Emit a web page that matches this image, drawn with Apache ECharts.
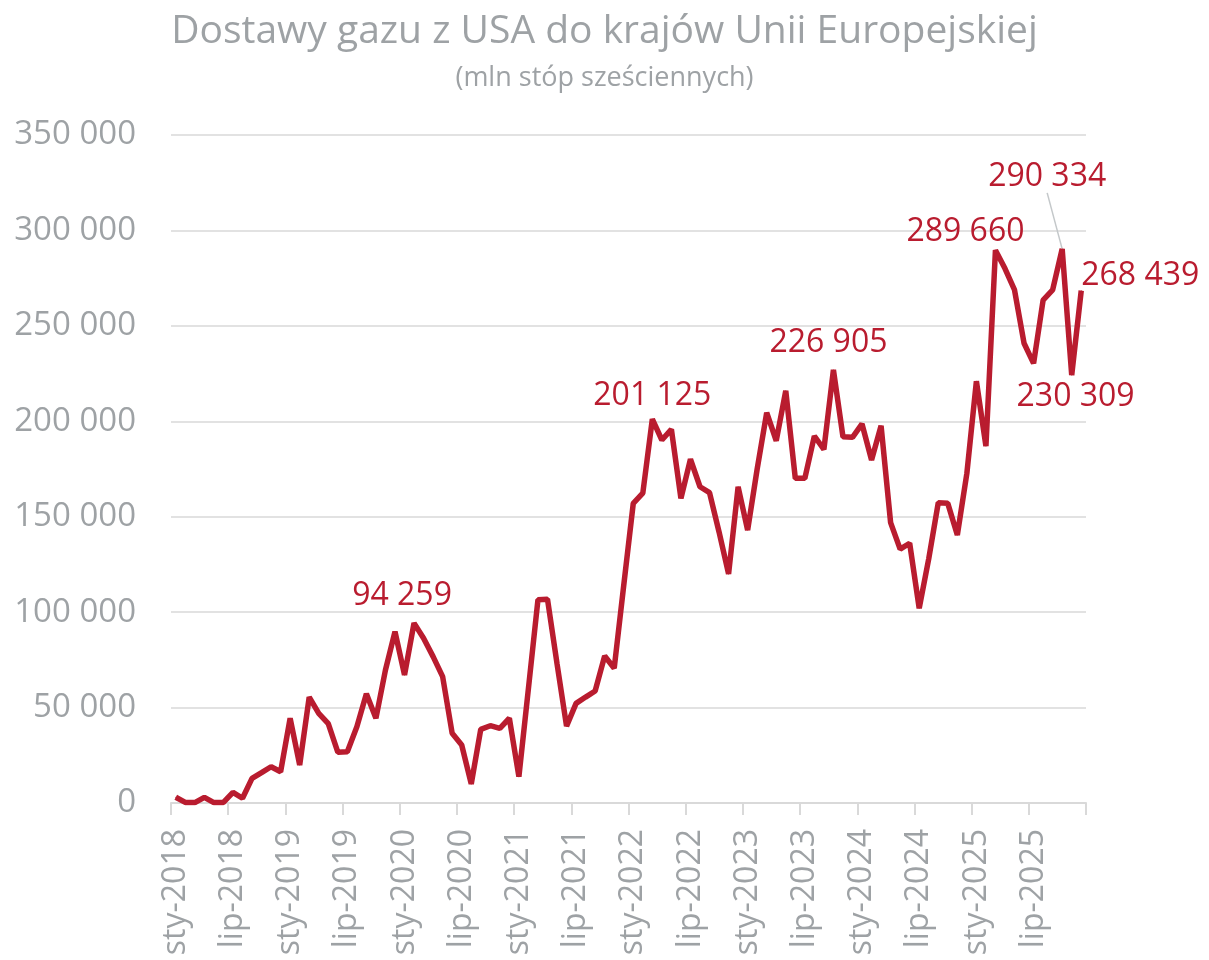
<!DOCTYPE html>
<html>
<head>
<meta charset="utf-8">
<script src="https://cdn.jsdelivr.net/npm/echarts@6/dist/echarts.min.js"></script>
<style>
  html, body { margin: 0; padding: 0; background: #ffffff; }
  #chart { width: 1209px; height: 960px; }
</style>
</head>
<body>
<div id="chart"></div>
<script>
// Polish month abbreviations and the years covered by the series
const monthNames = ['sty', 'lut', 'mar', 'kwi', 'maj', 'cze', 'lip', 'sie', 'wrz', 'paź', 'lis', 'gru'];
const years = [2018, 2019, 2020, 2021, 2022, 2023, 2024, 2025];

// Monthly US gas deliveries to EU countries (million cubic feet), Jan 2018 – Dec 2025
const deliveries2018 = [3000, 300, 200, 3000, 200, 300, 5600, 2500, 12900, 15900, 19000, 16400];
const deliveries2019 = [44400, 19900, 55500, 47000, 41600, 26600, 26900, 40000, 57300, 44400, 69700, 89800];
const deliveries2020 = [67100, 94259, 86300, 76700, 66200, 36500, 30400, 10000, 38600, 40500, 39100, 44400];
const deliveries2021 = [13800, 60000, 106500, 106800, 73000, 40300, 52200, 55500, 58700, 77000, 70600, 114000];
const deliveries2022 = [157000, 162300, 201125, 190200, 195800, 159600, 180100, 165700, 162600, 142000, 120000, 165700];
const deliveries2023 = [143000, 175000, 204500, 189800, 216000, 170100, 170100, 192300, 185300, 226905, 191900, 191600];
const deliveries2024 = [198600, 179700, 197700, 146900, 133000, 136100, 102000, 128000, 157300, 157000, 140400, 172700];
const deliveries2025 = [221000, 187000, 289660, 280000, 268800, 240900, 230309, 263500, 268800, 290334, 224200, 268439];

// Y axis scale
const yMin = 0;
const yMax = 350000;
const yStep = 50000;

// Labelled months (index into the series) and where each value label sits relative to its point
const labelledIndex = [25, 50, 69, 86, 90, 93, 95];
const labelShift = {
  25: [-12, -27],
  50: [0, -23],
  69: [-5, -27],
  86: [-30, -18],
  90: [42, 33],
  93: [-15, -72],
  95: [59, -15]
};
const guidedIndex = [93];

const deliveries = [].concat(deliveries2018, deliveries2019, deliveries2020, deliveries2021,
  deliveries2022, deliveries2023, deliveries2024, deliveries2025);
const categories = [];
years.forEach(function (y) {
  monthNames.forEach(function (m) { categories.push(m + '-' + y); });
});

const red = '#B91C2F';
const grey = '#9EA2A5';
const gridGrey = '#E2E2E2';

function spaced(v) {
  return String(Math.round(v)).replace(/\B(?=(\d{3})+(?!\d))/g, ' ');
}

const seriesData = deliveries.map(function (v, i) {
  if (labelledIndex.indexOf(i) === -1) return v;
  const item = { value: v, label: { show: true } };
  if (guidedIndex.indexOf(i) !== -1) {
    item.labelLine = { show: true, lineStyle: { color: '#C4C8CA', width: 1.5 } };
  }
  return item;
});

const chart = echarts.init(document.getElementById('chart'), null, { renderer: 'canvas' });
chart.setOption({
  animation: false,
  backgroundColor: '#ffffff',
  title: [
    {
      text: 'Dostawy gazu z USA do krajów Unii Europejskiej',
      left: 'center',
      top: 7,
      textStyle: { fontFamily: 'Open Sans', fontSize: 39, fontWeight: 'normal', color: grey }
    },
    {
      text: '(mln stóp sześciennych)',
      left: 'center',
      top: 60,
      textStyle: { fontFamily: 'Open Sans', fontSize: 27, fontWeight: 'normal', color: grey }
    }
  ],
  grid: { left: 171, right: 123, top: 135, bottom: 157, containLabel: false },
  xAxis: {
    type: 'category',
    data: categories,
    boundaryGap: true,
    axisLine: { show: true, lineStyle: { color: '#D9D9D9', width: 2 } },
    axisTick: { show: true, interval: 5, length: 12, lineStyle: { color: '#D9D9D9', width: 2 } },
    axisLabel: {
      interval: 5,
      rotate: 90,
      margin: 26,
      fontFamily: 'Open Sans',
      fontSize: 32,
      color: grey
    },
    splitLine: { show: false }
  },
  yAxis: {
    type: 'value',
    min: yMin,
    max: yMax,
    interval: yStep,
    axisLine: { show: false },
    axisTick: { show: false },
    axisLabel: {
      margin: 35,
      fontFamily: 'Open Sans',
      fontSize: 33,
      color: grey,
      formatter: spaced
    },
    splitLine: { show: true, lineStyle: { color: gridGrey, width: 2 } }
  },
  series: [
    {
      type: 'line',
      data: seriesData,
      showSymbol: true,
      symbol: 'circle',
      symbolSize: 1,
      itemStyle: { color: red },
      lineStyle: { color: red, width: 5.5 },
      label: {
        show: false,
        position: 'inside',
        fontFamily: 'Open Sans',
        fontSize: 32,
        color: red,
        formatter: function (p) { return spaced(p.value); }
      },
      labelLine: { show: false },
      labelLayout: function (p) {
        const s = labelShift[p.dataIndex];
        return s ? { dx: s[0], dy: s[1] } : {};
      },
      emphasis: { disabled: true }
    }
  ]
});
</script>
</body>
</html>
